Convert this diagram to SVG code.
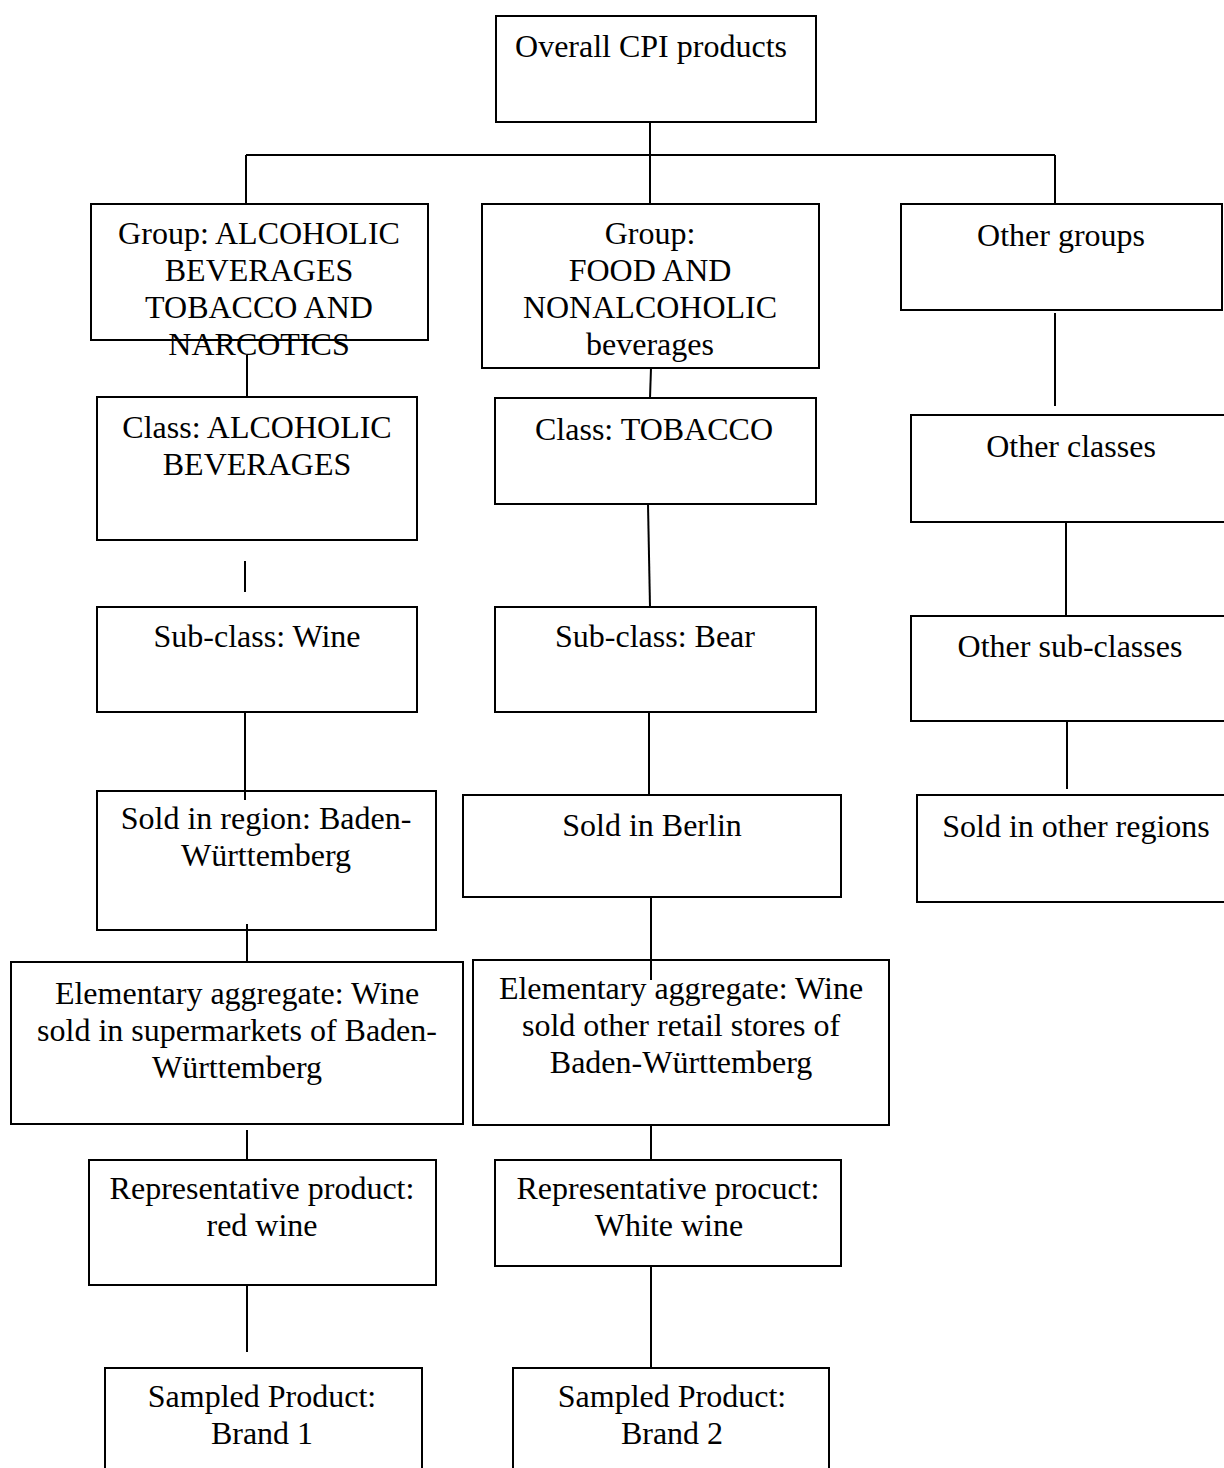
<svg xmlns="http://www.w3.org/2000/svg" width="1224" height="1468" viewBox="0 0 1224 1468">
<style>
.box{fill:#fff;stroke:#000;stroke-width:2}
.ln{stroke:#000;stroke-width:2;fill:none}
text{font-family:"Liberation Serif","Times New Roman",serif;font-size:32px;fill:#000;text-anchor:middle}
</style>
<rect width="1224" height="1468" fill="#fff"/>
<g id="connectors">
<line class="ln" x1="650" y1="116" x2="650" y2="204"/>
<line class="ln" x1="246" y1="155" x2="1055" y2="155"/>
<line class="ln" x1="246" y1="155" x2="246" y2="204"/>
<line class="ln" x1="1055" y1="155" x2="1055" y2="204"/>
<line class="ln" x1="247" y1="355" x2="247" y2="397"/>
<line class="ln" x1="651" y1="368" x2="650" y2="398"/>
<line class="ln" x1="1055" y1="313" x2="1055" y2="406"/>
<line class="ln" x1="245" y1="561" x2="245" y2="592"/>
<line class="ln" x1="648" y1="504" x2="650" y2="607"/>
<line class="ln" x1="1066" y1="522" x2="1066" y2="616"/>
<line class="ln" x1="245" y1="712" x2="245" y2="800"/>
<line class="ln" x1="649" y1="712" x2="649" y2="795"/>
<line class="ln" x1="1067" y1="721" x2="1067" y2="789"/>
<line class="ln" x1="247" y1="924" x2="247" y2="962"/>
<line class="ln" x1="651" y1="897" x2="651" y2="980"/>
<line class="ln" x1="247" y1="1130" x2="247" y2="1166"/>
<line class="ln" x1="651" y1="1125" x2="651" y2="1160"/>
<line class="ln" x1="247" y1="1285" x2="247" y2="1352"/>
<line class="ln" x1="651" y1="1266" x2="651" y2="1368"/>
</g>
<g id="n-overall"><rect class="box" x="496" y="16" width="320" height="106"/><text x="651" y="57">Overall CPI products</text></g>
<g id="n-group1"><rect class="box" x="91" y="204" width="337" height="136" style="fill:none"/><text x="259" y="244">Group: ALCOHOLIC</text><text x="259" y="281">BEVERAGES</text><text x="259" y="318">TOBACCO AND</text><text x="259" y="355">NARCOTICS</text></g>
<g id="n-group2"><rect class="box" x="482" y="204" width="337" height="164"/><text x="650" y="244">Group:</text><text x="650" y="281">FOOD AND</text><text x="650" y="318">NONALCOHOLIC</text><text x="650" y="355">beverages</text></g>
<g id="n-othergroups"><rect class="box" x="901" y="204" width="321" height="106"/><text x="1061" y="246">Other groups</text></g>
<g id="n-classalc"><rect class="box" x="97" y="397" width="320" height="143"/><text x="257" y="438">Class: ALCOHOLIC</text><text x="257" y="475">BEVERAGES</text></g>
<g id="n-classtob"><rect class="box" x="495" y="398" width="321" height="106"/><text x="654" y="440">Class: TOBACCO</text></g>
<g id="n-otherclasses"><rect class="box" x="911" y="415" width="320" height="107"/><text x="1071" y="457">Other classes</text></g>
<g id="n-subwine"><rect class="box" x="97" y="607" width="320" height="105"/><text x="257" y="647">Sub-class: Wine</text></g>
<g id="n-subbear"><rect class="box" x="495" y="607" width="321" height="105"/><text x="655" y="647">Sub-class: Bear</text></g>
<g id="n-othersub"><rect class="box" x="911" y="616" width="320" height="105"/><text x="1070" y="657">Other sub-classes</text></g>
<g id="n-soldbw"><rect class="box" x="97" y="791" width="339" height="139" style="fill:none"/><text x="266" y="829">Sold in region: Baden-</text><text x="266" y="866">Württemberg</text></g>
<g id="n-soldberlin"><rect class="box" x="463" y="795" width="378" height="102"/><text x="652" y="836">Sold in Berlin</text></g>
<g id="n-soldother"><rect class="box" x="917" y="795" width="314" height="107"/><text x="1076" y="837">Sold in other regions</text></g>
<g id="n-ealeft"><rect class="box" x="11" y="962" width="452" height="162"/><text x="237" y="1004">Elementary aggregate: Wine</text><text x="237" y="1041">sold in supermarkets of Baden-</text><text x="237" y="1078">Württemberg</text></g>
<g id="n-earight"><rect class="box" x="473" y="960" width="416" height="165" style="fill:none"/><text x="681" y="999">Elementary aggregate: Wine</text><text x="681" y="1036">sold other retail stores of</text><text x="681" y="1073">Baden-Württemberg</text></g>
<g id="n-repred"><rect class="box" x="89" y="1160" width="347" height="125"/><text x="262" y="1199">Representative product:</text><text x="262" y="1236">red wine</text></g>
<g id="n-repwhite"><rect class="box" x="495" y="1160" width="346" height="106"/><text x="668" y="1199">Representative procuct:</text><text x="669" y="1236">White wine</text></g>
<g id="n-brand1"><rect class="box" x="105" y="1368" width="317" height="110"/><text x="262" y="1407">Sampled Product:</text><text x="262" y="1444">Brand 1</text></g>
<g id="n-brand2"><rect class="box" x="513" y="1368" width="316" height="110"/><text x="672" y="1407">Sampled Product:</text><text x="672" y="1444">Brand 2</text></g>
</svg>
